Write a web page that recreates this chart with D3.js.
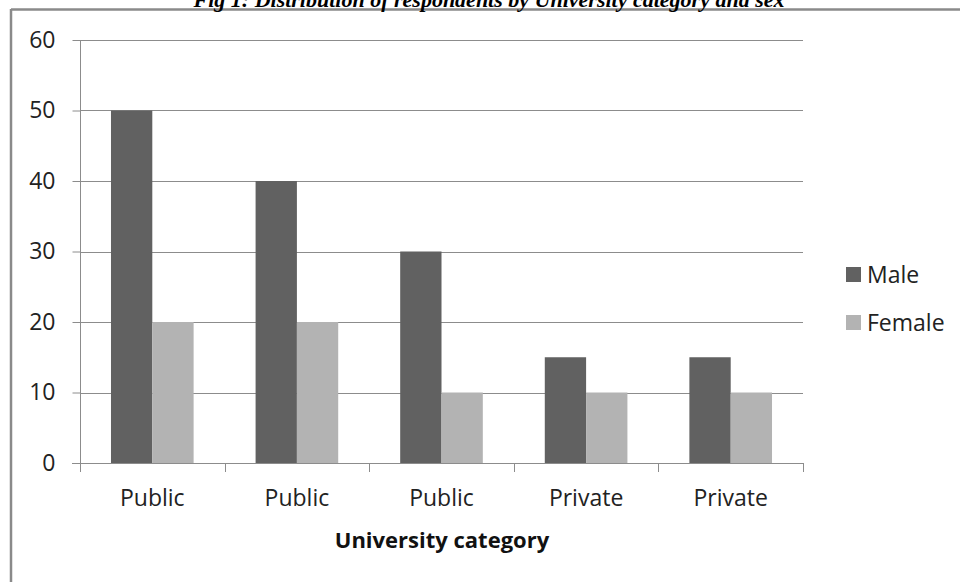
<!DOCTYPE html>
<html>
<head>
<meta charset="utf-8">
<script src="https://cdn.jsdelivr.net/npm/d3@7"></script>
<style>
  html, body { margin: 0; padding: 0; background: #fff; }
  svg { display: block; }
</style>
</head>
<body>
<svg id="chart" width="960" height="582"></svg>
<script>
// Respondents by university category and sex
const categories = ["Public", "Public", "Public", "Private", "Private"];
const seriesNames = ["Male", "Female"];
const maleValues = [50, 40, 30, 15, 15];
const femaleValues = [20, 20, 10, 10, 10];
const yTicks = [0, 10, 20, 30, 40, 50, 60];
const titleText = "Fig 1: Distribution of respondents by University category and sex";
const xAxisTitle = "University category";

const colors = { Male: "#616161", Female: "#b3b3b3" };
const seriesValues = { Male: maleValues, Female: femaleValues };
const font = "'Open Sans', 'Liberation Sans', sans-serif";
const fontSize = 23;

const svg = d3.select("#chart");
const plot = { left: 80, right: 803, top: 40, bottom: 463 };

// Frame: top and left border of the chart box
svg.append("line").attr("x1", 11).attr("x2", 960).attr("y1", 9.5).attr("y2", 9.5)
  .attr("stroke", "#8a8a8a").attr("stroke-width", 2.5);
svg.append("line").attr("x1", 11).attr("x2", 11).attr("y1", 9).attr("y2", 582)
  .attr("stroke", "#8a8a8a").attr("stroke-width", 2.5);

// Title, running off the top edge above the frame
svg.append("text")
  .attr("x", 489).attr("y", 7)
  .attr("text-anchor", "middle")
  .attr("font-family", "'Liberation Serif', 'Times New Roman', serif")
  .attr("font-weight", "bold").attr("font-style", "italic")
  .attr("font-size", 22)
  .attr("fill", "#000")
  .text(titleText);

const x = d3.scaleBand()
  .domain(d3.range(categories.length))
  .range([plot.left, plot.right])
  .paddingInner(0).paddingOuter(0);

const xInner = d3.scaleBand()
  .domain(seriesNames)
  .range([0, x.bandwidth()])
  .paddingInner(0)
  .paddingOuter(0.75);

const y = d3.scaleLinear().domain([0, 60]).range([plot.bottom, plot.top]);

// Horizontal gridlines
svg.append("g")
  .selectAll("line")
  .data(yTicks.filter(t => t > 0))
  .join("line")
  .attr("x1", plot.left).attr("x2", plot.right)
  .attr("y1", d => Math.round(y(d)) + 0.5).attr("y2", d => Math.round(y(d)) + 0.5)
  .attr("stroke", "#8c8c8c").attr("stroke-width", 1);

// Bars
const groups = svg.append("g")
  .selectAll("g")
  .data(categories.map((c, i) => i))
  .join("g")
  .attr("transform", i => `translate(${x(i)},0)`);

groups.selectAll("rect")
  .data(i => seriesNames.map(s => ({ s, v: seriesValues[s][i] })))
  .join("rect")
  .attr("x", d => xInner(d.s))
  .attr("width", xInner.bandwidth())
  .attr("y", d => y(d.v))
  .attr("height", d => y(0) - y(d.v))
  .attr("fill", d => colors[d.s]);

// Y axis
const yAxis = d3.axisLeft(y).tickValues(yTicks).tickSize(8).tickPadding(17);
const yg = svg.append("g").attr("transform", `translate(${plot.left + 0.5},0)`).call(yAxis);
yg.select(".domain").attr("stroke", "#8c8c8c").attr("d", `M0,${plot.top}V${plot.bottom}`);
yg.selectAll(".tick line").attr("stroke", "#8c8c8c");
yg.selectAll(".tick text")
  .attr("font-family", font).attr("font-size", fontSize).attr("fill", "#222");

// X axis with ticks on category boundaries
svg.append("line")
  .attr("x1", plot.left - 8).attr("x2", plot.right)
  .attr("y1", plot.bottom + 0.5).attr("y2", plot.bottom + 0.5)
  .attr("stroke", "#8c8c8c");
svg.append("g")
  .selectAll("line")
  .data(d3.range(categories.length + 1))
  .join("line")
  .attr("x1", i => Math.round(plot.left + i * x.step()) + 0.5)
  .attr("x2", i => Math.round(plot.left + i * x.step()) + 0.5)
  .attr("y1", plot.bottom).attr("y2", plot.bottom + 9)
  .attr("stroke", "#8c8c8c");

svg.append("g")
  .selectAll("text")
  .data(categories)
  .join("text")
  .attr("x", (d, i) => x(i) + x.bandwidth() / 2)
  .attr("y", 498)
  .attr("dy", "0.35em")
  .attr("text-anchor", "middle")
  .attr("font-family", font).attr("font-size", fontSize).attr("fill", "#222")
  .text(d => d);

// Axis title
svg.append("text")
  .attr("x", 442).attr("y", 540).attr("dy", "0.35em")
  .attr("text-anchor", "middle")
  .attr("font-family", font).attr("font-size", 22).attr("font-weight", "bold")
  .attr("fill", "#111")
  .text(xAxisTitle);

// Legend
const legend = svg.append("g")
  .selectAll("g")
  .data(seriesNames)
  .join("g")
  .attr("transform", (d, i) => `translate(846,${267 + i * 48})`);
legend.append("rect")
  .attr("width", 15).attr("height", 15)
  .attr("fill", d => colors[d]);
legend.append("text")
  .attr("x", 21).attr("y", 7.5).attr("dy", "0.35em")
  .attr("font-family", font).attr("font-size", fontSize).attr("fill", "#222")
  .text(d => d);
</script>
</body>
</html>
